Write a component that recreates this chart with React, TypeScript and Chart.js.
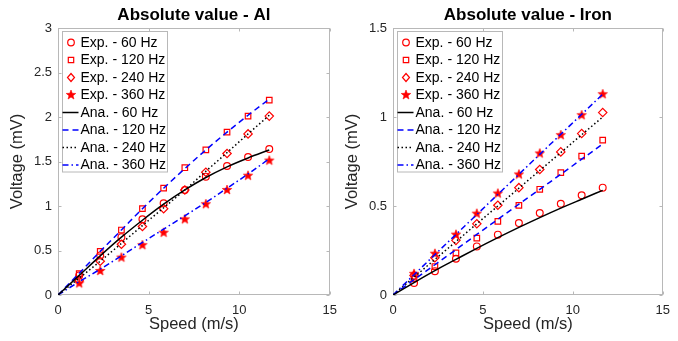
import React, { useEffect, useRef } from "react";
import { Chart, registerables } from "chart.js";
Chart.register(...registerables);

// ---------------- data ----------------
const speed = [1.17, 2.33, 3.5, 4.66, 5.83, 7.0, 8.16, 9.33, 10.49, 11.66];
const anaSpeed = [0, 1.17, 2.33, 3.5, 4.66, 5.83, 7.0, 8.16, 9.33, 10.49, 11.66];

const alExp60 = [0.22, 0.445, 0.65, 0.85, 1.03, 1.18, 1.33, 1.45, 1.55, 1.64];
const alExp120 = [0.24, 0.49, 0.73, 0.97, 1.2, 1.43, 1.63, 1.83, 2.01, 2.19];
const alExp240 = [0.16, 0.38, 0.57, 0.77, 0.97, 1.18, 1.38, 1.59, 1.81, 2.01];
const alExp360 = [0.13, 0.27, 0.42, 0.56, 0.7, 0.85, 1.02, 1.18, 1.34, 1.51];
const alAna60 = [0, 0.22, 0.44, 0.65, 0.84, 1.02, 1.18, 1.32, 1.44, 1.54, 1.63];
const alAna120 = [0, 0.245, 0.49, 0.73, 0.97, 1.2, 1.42, 1.63, 1.83, 2.02, 2.2];
const alAna240 = [0, 0.19, 0.38, 0.58, 0.78, 0.98, 1.18, 1.39, 1.6, 1.81, 2.02];
const alAna360 = [0, 0.15, 0.29, 0.44, 0.59, 0.74, 0.89, 1.04, 1.2, 1.36, 1.53];

const feExp60 = [0.067, 0.134, 0.204, 0.273, 0.339, 0.404, 0.46, 0.513, 0.56, 0.603];
const feExp120 = [0.091, 0.16, 0.237, 0.32, 0.414, 0.504, 0.594, 0.688, 0.78, 0.87];
const feExp240 = [0.11, 0.209, 0.307, 0.4, 0.504, 0.603, 0.705, 0.804, 0.907, 1.025];
const feExp360 = [0.119, 0.232, 0.339, 0.457, 0.57, 0.677, 0.795, 0.898, 1.01, 1.128];
const feAna60 = [0, 0.07, 0.137, 0.2, 0.262, 0.322, 0.38, 0.435, 0.488, 0.538, 0.588];
const feAna120 = [0, 0.086, 0.17, 0.255, 0.34, 0.425, 0.51, 0.594, 0.678, 0.763, 0.848];
const feAna240 = [0, 0.1, 0.2, 0.3, 0.4, 0.5, 0.6, 0.7, 0.8, 0.9, 1.0];
const feAna360 = [0, 0.114, 0.227, 0.34, 0.452, 0.565, 0.678, 0.79, 0.903, 1.015, 1.128];

const legendLabels = [
  "Exp. - 60 Hz",
  "Exp. - 120 Hz",
  "Exp. - 240 Hz",
  "Exp. - 360 Hz",
  "Ana. - 60 Hz",
  "Ana. - 120 Hz",
  "Ana. - 240 Hz",
  "Ana. - 360 Hz",
];
const xTicks = [0, 5, 10, 15];
const alYTicks = [0, 0.5, 1, 1.5, 2, 2.5, 3];
const feYTicks = [0, 0.5, 1, 1.5];

// ---------------- styles ----------------
const FONT = "'Liberation Sans', Arial, Helvetica, sans-serif";
const RED = "#ff0000";
const BLUE = "#0000ff";
const BLACK = "#000000";
const TICK = "#262626";
const AXIS = "#b8b8b8";

const markerStyles = ["circle", "rect", "rectRot", "star"];
const anaColors = [BLACK, BLUE, BLACK, BLUE];
const anaDashes = [[], [6, 4], [1.5, 2.5], [6, 3, 1.5, 3]];

function drawStar(ctx: CanvasRenderingContext2D, x: number, y: number, R: number) {
  const r = R * 0.42;
  ctx.beginPath();
  for (let i = 0; i < 10; i++) {
    const rad = i % 2 === 0 ? R : r;
    const a = -Math.PI / 2 + (i * Math.PI) / 5;
    const px = x + rad * Math.cos(a);
    const py = y + rad * Math.sin(a);
    if (i === 0) ctx.moveTo(px, py);
    else ctx.lineTo(px, py);
  }
  ctx.closePath();
  ctx.fillStyle = RED;
  ctx.fill();
  ctx.strokeStyle = RED;
  ctx.lineWidth = 0.6;
  ctx.stroke();
}

function makeStarCanvas(R: number) {
  const size = Math.ceil(R * 2 + 2);
  const c = document.createElement("canvas");
  c.width = size;
  c.height = size;
  const ctx = c.getContext("2d")!;
  drawStar(ctx, size / 2, size / 2, R);
  return c;
}

function drawMarker(ctx: CanvasRenderingContext2D, kind: number, x: number, y: number) {
  ctx.save();
  ctx.strokeStyle = RED;
  ctx.lineWidth = 1.2;
  ctx.beginPath();
  if (kind === 0) {
    ctx.arc(x, y, 3.3, 0, Math.PI * 2);
    ctx.stroke();
  } else if (kind === 1) {
    ctx.rect(x - 2.7, y - 2.7, 5.4, 5.4);
    ctx.stroke();
  } else if (kind === 2) {
    ctx.moveTo(x, y - 4);
    ctx.lineTo(x + 3.5, y);
    ctx.lineTo(x, y + 4);
    ctx.lineTo(x - 3.5, y);
    ctx.closePath();
    ctx.stroke();
  } else {
    drawStar(ctx, x, y, 5);
  }
  ctx.restore();
}

const decorPlugin = {
  id: "decor",
  beforeDatasetsDraw(chart: any) {
    const { ctx, chartArea } = chart;
    const { left, right, top, bottom } = chartArea;
    const xs = chart.scales.x;
    const ys = chart.scales.y;
    const yt: number[] = chart.options.plugins.decor.yTicks;
    ctx.save();
    ctx.strokeStyle = AXIS;
    ctx.lineWidth = 1;
    const L = Math.round(left) + 0.5;
    const R = Math.round(right) - 0.5;
    const T = Math.round(top) + 0.5;
    const B = Math.round(bottom) - 0.5;
    ctx.strokeRect(L, T, R - L, B - T);
    ctx.beginPath();
    xTicks.forEach((v) => {
      const px = Math.round(xs.getPixelForValue(v)) + 0.5;
      ctx.moveTo(px, B);
      ctx.lineTo(px, B - 3);
      ctx.moveTo(px, T);
      ctx.lineTo(px, T + 3);
    });
    yt.forEach((v) => {
      const py = Math.round(ys.getPixelForValue(v)) + 0.5;
      ctx.moveTo(L, py);
      ctx.lineTo(L + 3, py);
      ctx.moveTo(R, py);
      ctx.lineTo(R - 3, py);
    });
    ctx.stroke();
    ctx.restore();
  },
  afterDraw(chart: any) {
    const { ctx, chartArea } = chart;
    const { left, right } = chartArea;
    const title: string = chart.options.plugins.decor.title;
    ctx.save();
    ctx.font = `bold 17px ${FONT}`;
    ctx.fillStyle = BLACK;
    ctx.textAlign = "center";
    ctx.textBaseline = "alphabetic";
    ctx.fillText(title, (left + right) / 2, 20);

    // legend
    const bx = Math.round(left) + 4.5;
    const by = 31.5;
    const bw = 105;
    const bh = 140.5;
    ctx.fillStyle = "#ffffff";
    ctx.fillRect(bx, by, bw, bh);
    ctx.strokeStyle = AXIS;
    ctx.lineWidth = 1;
    ctx.strokeRect(bx, by, bw, bh);
    ctx.font = `14px ${FONT}`;
    ctx.textAlign = "left";
    ctx.textBaseline = "middle";
    legendLabels.forEach((lab, i) => {
      const ry = 42.5 + i * 17.5;
      if (i < 4) {
        drawMarker(ctx, i, left + 13, ry);
      } else {
        const k = i - 4;
        ctx.save();
        ctx.strokeStyle = anaColors[k];
        ctx.lineWidth = 1.5;
        ctx.setLineDash(anaDashes[k]);
        ctx.beginPath();
        ctx.moveTo(left + 4.5, ry);
        ctx.lineTo(left + 20.5, ry);
        ctx.stroke();
        ctx.restore();
      }
      ctx.fillStyle = BLACK;
      ctx.fillText(lab, left + 22.5, ry + 0.5);
    });
    ctx.restore();
  },
};

function makeConfig(
  title: string,
  exps: number[][],
  anas: number[][],
  yMax: number,
  yTicks: number[],
  rightPad: number
): any {
  const star = makeStarCanvas(5);
  const datasets: any[] = [];
  exps.forEach((arr, k) => {
    datasets.push({
      label: legendLabels[k],
      data: speed.map((x, i) => ({ x, y: arr[i] })),
      showLine: false,
      pointStyle: k === 3 ? star : markerStyles[k],
      pointRadius: k === 0 ? 3.4 : k === 1 ? 3.9 : k === 2 ? 4.2 : 5,
      pointBorderWidth: 1.2,
      pointBorderColor: RED,
      pointBackgroundColor: "rgba(0,0,0,0)",
      borderColor: RED,
      order: 2,
      clip: false,
    });
  });
  anas.forEach((arr, k) => {
    datasets.push({
      label: legendLabels[k + 4],
      data: anaSpeed.map((x, i) => ({ x, y: arr[i] })),
      showLine: true,
      pointRadius: 0,
      borderColor: anaColors[k],
      borderWidth: 1.5,
      borderDash: anaDashes[k],
      cubicInterpolationMode: "monotone",
      fill: false,
      order: 1,
    });
  });
  const fmt = (v: any) => String(Math.round(Number(v) * 100) / 100);
  return {
    type: "line",
    data: { datasets },
    plugins: [decorPlugin],
    options: {
      animation: false,
      responsive: false,
      maintainAspectRatio: false,
      events: [],
      layout: { padding: { top: 28, right: rightPad, left: 0, bottom: 0 } },
      plugins: {
        legend: { display: false },
        tooltip: { enabled: false },
        title: { display: false },
        decor: { title, yTicks },
      },
      scales: {
        x: {
          type: "linear",
          min: 0,
          max: 15,
          afterBuildTicks: (s: any) => {
            s.ticks = xTicks.map((v) => ({ value: v }));
          },
          afterFit: (s: any) => {
            s.height = 46;
          },
          ticks: {
            font: { size: 13, family: FONT },
            color: TICK,
            padding: 8,
            maxRotation: 0,
            autoSkip: false,
            callback: fmt,
          },
          grid: { display: false, drawTicks: false, tickLength: 0 },
          border: { display: false },
          title: {
            display: true,
            text: "Speed (m/s)",
            font: { size: 16.5, family: FONT },
            color: TICK,
            padding: { top: 0, bottom: 7 },
          },
        },
        y: {
          type: "linear",
          min: 0,
          max: yMax,
          afterBuildTicks: (s: any) => {
            s.ticks = yTicks.map((v) => ({ value: v }));
          },
          afterFit: (s: any) => {
            s.width = 58;
          },
          ticks: {
            font: { size: 13, family: FONT },
            color: TICK,
            padding: 6,
            autoSkip: false,
            callback: fmt,
          },
          grid: { display: false, drawTicks: false, tickLength: 0 },
          border: { display: false },
          title: {
            display: true,
            text: "Voltage (mV)",
            font: { size: 16.5, family: FONT },
            color: TICK,
            padding: { top: 8, bottom: 0 },
          },
        },
      },
    },
  };
}

function ChartCanvas(props: { make: () => any; left: number; width: number }) {
  const ref = useRef<HTMLCanvasElement>(null);
  useEffect(() => {
    const chart = new Chart(ref.current!, props.make());
    return () => chart.destroy();
  }, []);
  return (
    <canvas
      ref={ref}
      width={props.width}
      height={341}
      style={{ position: "absolute", left: props.left, top: 0, width: props.width, height: 341 }}
    />
  );
}

export default function App() {
  return (
    <div
      style={{
        position: "fixed",
        left: 0,
        top: 0,
        width: 678,
        height: 341,
        background: "#ffffff",
        overflow: "hidden",
      }}
    >
      <ChartCanvas
        left={0}
        width={345}
        make={() =>
          makeConfig(
            "Absolute value - Al",
            [alExp60, alExp120, alExp240, alExp360],
            [alAna60, alAna120, alAna240, alAna360],
            3,
            alYTicks,
            10
          )
        }
      />
      <ChartCanvas
        left={335}
        width={343}
        make={() =>
          makeConfig(
            "Absolute value - Iron",
            [feExp60, feExp120, feExp240, feExp360],
            [feAna60, feAna120, feAna240, feAna360],
            1.5,
            feYTicks,
            8
          )
        }
      />
    </div>
  );
}
